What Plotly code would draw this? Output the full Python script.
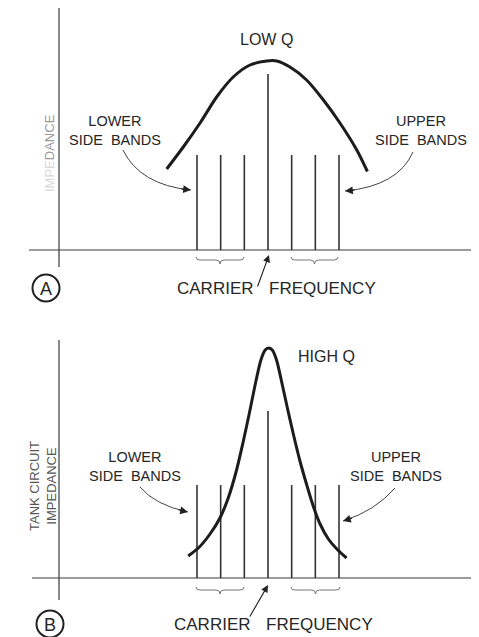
import plotly.graph_objects as go

# ---------------- data ----------------
bar_positions = [-3, -2, -1, 0, 1, 2, 3]          # side bands and carrier
bar_heights_low_q = [0.95, 0.95, 0.95, 1.76, 0.95, 0.95, 0.95]
bar_heights_high_q = [0.93, 0.93, 0.93, 1.67, 0.93, 0.93, 0.93]

low_q_freq = [-4.28, -3.58, -2.87, -2.17, -1.47, -0.76, -0.05, 0.37, 0.93, 1.63, 2.34, 3.04, 3.75, 4.20]
low_q_imp = [0.81, 1.03, 1.27, 1.53, 1.73, 1.85, 1.89, 1.89, 1.83, 1.70, 1.50, 1.27, 1.00, 0.785]

high_q_freq = [-3.37, -2.90, -2.45, -2.03, -1.68, -1.35, -1.05, -0.76, -0.50, -0.30, -0.12, 0.02,
               0.18, 0.36, 0.56, 0.80, 1.07, 1.35, 1.65, 1.91, 2.20, 2.55, 2.95, 3.32]
high_q_imp = [0.22, 0.31, 0.44, 0.60, 0.80, 1.06, 1.36, 1.68, 1.98, 2.18, 2.28, 2.30,
              2.28, 2.18, 1.98, 1.72, 1.44, 1.17, 0.92, 0.72, 0.54, 0.39, 0.28, 0.20]

# ---------------- layout helpers ----------------
# the page body has an 8px margin, so the figure starts at screen pixel (8, 8)
OFF = 8
W, H = 479 - OFF, 637 - OFF
def X(px): return (px - OFF) / W
def Y(py): return 1 - (py - OFF) / H

INK = "#262626"
FONT = "Liberation Sans, Arial, sans-serif"

def stems(xs, hs):
    xx, yy = [], []
    for x, h in zip(xs, hs):
        xx += [x, x, None]
        yy += [0, h, None]
    return xx, yy

fig = go.Figure()

for hs, fx, fy, ax in [
        (bar_heights_low_q, low_q_freq, low_q_imp, ("x", "y")),
        (bar_heights_high_q, high_q_freq, high_q_imp, ("x2", "y2"))]:
    sx, sy = stems(bar_positions, hs)
    fig.add_trace(go.Scatter(x=sx, y=sy, mode="lines", line=dict(color="#333333", width=1.6),
                             xaxis=ax[0], yaxis=ax[1], hoverinfo="skip", showlegend=False))
    fig.add_trace(go.Scatter(x=fx, y=fy, mode="lines",
                             line=dict(color="#1c1c1c", width=3, shape="spline", smoothing=0.8),
                             xaxis=ax[0], yaxis=ax[1], showlegend=False))

unit = 23.67
xr = [(OFF - 268) / unit, (479 - 268) / unit]
split = Y(320)
hidden = dict(visible=False, showgrid=False, zeroline=False, fixedrange=True)
fig.update_layout(
    width=W, height=H, margin=dict(l=0, r=0, t=0, b=0),
    paper_bgcolor="#ffffff", plot_bgcolor="rgba(0,0,0,0)",
    xaxis=dict(domain=[0, 1], range=xr, **hidden),
    yaxis=dict(domain=[split, 1], range=[(250 - 320) / 100, (250 - OFF) / 100], **hidden),
    xaxis2=dict(domain=[0, 1], range=xr, anchor="y2", **hidden),
    yaxis2=dict(domain=[0, split], range=[(578 - 637) / 100, (578 - 320) / 100], anchor="x2", **hidden),
    font=dict(family=FONT, color=INK),
)

shapes = []
def line(x0, y0, x1, y1, w=1.2, c="#3a3a3a"):
    shapes.append(dict(type="line", xref="paper", yref="paper", x0=X(x0), y0=Y(y0), x1=X(x1), y1=Y(y1),
                       line=dict(color=c, width=w)))

# axes
line(59, 7, 59, 267)
line(29, 250, 472, 250)
line(59, 340, 59, 600)
line(32, 578, 479, 578)

def brace(x1, x2, y0):
    xc = (x1 + x2) / 2
    p = (f"M{X(x1)},{Y(y0-3)} Q{X(x1)},{Y(y0)} {X(x1+4)},{Y(y0)} L{X(xc-4)},{Y(y0)} "
         f"Q{X(xc)},{Y(y0)} {X(xc)},{Y(y0+4)} Q{X(xc)},{Y(y0)} {X(xc+4)},{Y(y0)} "
         f"L{X(x2-4)},{Y(y0)} Q{X(x2)},{Y(y0)} {X(x2)},{Y(y0-3)}")
    shapes.append(dict(type="path", xref="paper", yref="paper", path=p, line=dict(color="#777", width=1)))

brace(196, 244, 260)
brace(291, 338, 260)
brace(196, 244, 590)
brace(291, 340, 590)

def curve(p0, c, p2):
    p = f"M{X(p0[0])},{Y(p0[1])} Q{X(c[0])},{Y(c[1])} {X(p2[0])},{Y(p2[1])}"
    shapes.append(dict(type="path", xref="paper", yref="paper", path=p, line=dict(color="#444", width=1)))

annotations = []
def head(p2, c, length=11):
    dx, dy = c[0] - p2[0], c[1] - p2[1]
    n = (dx * dx + dy * dy) ** 0.5
    annotations.append(dict(xref="paper", yref="paper", x=X(p2[0]), y=Y(p2[1]),
                            ax=dx / n * length, ay=dy / n * length, showarrow=True,
                            arrowhead=2, arrowsize=1.3, arrowwidth=1.2, arrowcolor="#222", text=""))

for p0, c, p2 in [((123, 150), (140, 185), (191, 190)),
                  ((413, 152), (398, 186), (345, 191)),
                  ((140, 487), (155, 505), (188, 512)),
                  ((395, 488), (375, 511), (343, 521))]:
    curve(p0, c, p2)
    head(p2, c)

# carrier arrows
for tip, tail in [((269, 255), (257, 288)), ((268, 585), (249, 618))]:
    annotations.append(dict(xref="paper", yref="paper", x=X(tip[0]), y=Y(tip[1]),
                            ax=tail[0] - tip[0], ay=tail[1] - tip[1], showarrow=True,
                            arrowhead=2, arrowsize=1.3, arrowwidth=1.1, arrowcolor="#222", text=""))

def txt(s, x, y, size=15, color=INK, angle=0):
    annotations.append(dict(xref="paper", yref="paper", x=X(x), y=Y(y), text=s, showarrow=False,
                            xanchor="center", yanchor="middle", textangle=angle, align="center",
                            font=dict(size=size, color=color, family=FONT)))

SB = "SIDE&nbsp;&nbsp;BANDS"
# panel A
txt("LOW Q", 266, 40, 16)
txt("LOWER<br>" + SB, 115, 131, 14.5)
txt("UPPER<br>" + SB, 421, 131, 14.5)
txt("CARRIER", 215, 289, 17)
txt("FREQUENCY", 322, 289, 17)
txt("<span style='color:#d8d8d8'>IMPE</span><span style='color:#9a9a9a'>DANCE</span>", 50, 153, 13, angle=-90)
# panel B
txt("HIGH Q", 326, 357, 16)
txt("LOWER<br>" + SB, 135, 466, 14.5)
txt("UPPER<br>" + SB, 396, 466, 14.5)
txt("CARRIER", 212, 624, 17)
txt("FREQUENCY", 319, 624, 17)
txt("TANK CIRCUIT<br>IMPEDANCE", 43, 486, 13, color="#555555", angle=-90)

# circled letters
for letter, cx, cy in [("A", 46, 288), ("B", 50, 624)]:
    r = 13.5
    shapes.append(dict(type="circle", xref="paper", yref="paper", x0=X(cx - r), x1=X(cx + r),
                       y0=Y(cy + r), y1=Y(cy - r), line=dict(color="#222", width=2)))
    txt(letter, cx, cy + 0.5, 18)

fig.update_layout(shapes=shapes, annotations=annotations)
fig.write_html("out.html")
